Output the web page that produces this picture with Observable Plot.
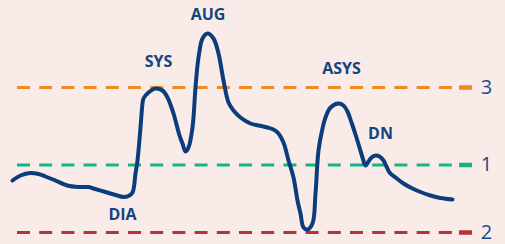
<!DOCTYPE html>
<html>
<head>
<meta charset="utf-8">
<script src="https://cdn.jsdelivr.net/npm/d3@7"></script>
<script src="https://cdn.jsdelivr.net/npm/@observablehq/plot@0.6"></script>
<style>
  html, body { margin: 0; padding: 0; background: #f9ece8; }
  #chart svg { display: block; background: #f9ece8; }
</style>
</head>
<body>
<div id="chart"></div>
<script>
// Waveform trace: time position and amplitude (height above bottom edge)
const waveT = [12,20,30,38,45,55,67,78,88,93,105,115,123,128,132,135,137,140,142,143,148,155,162,167,173,179,182,185,188,192,195,198,202,207,213,218,223,228,233,240,250,258,267,273,278,283,288,293,297,300,303,307,312,315,318,322,325,330,338,343,347,351,355,359,362,365,368,371,375,379,383,386,389,395,403,412,420,430,440,452];
const wavePy = [180,175,172.5,173.5,176,180,185,186.5,186.5,188,191.5,194.5,196.5,195.5,192,173,160,127,103,98,92,88,90,97,113,135,143,151,147,127,87,57,38,33,38,53,80,102,110,117,123,125,127,129,133,142,160,177,200,213,227,229,223,193,150,128,117,107,103,105,111,122,134,147,157,165,161,157,155,156,160,166,172,177,183,188,191.5,195,197.5,199];
const waveY = wavePy.map(p => 244 - p);

// Phase labels
const phaseNames = ["DIA", "SYS", "AUG", "ASYS", "DN"];
const phaseT = [122, 158, 207.5, 341, 380];
const phaseY = [244 - 214, 244 - 61, 244 - 14, 244 - 68.5, 244 - 133.5];

// Reference levels
const refNames = ["3", "1", "2"];
const refY = [244 - 87, 244 - 164.5, 244 - 232];
const refStart = [17, 17, 17];
const refEnd = [459, 459, 459];
const tickEnd = [472, 472, 472];
const refLabelT = [486, 486, 486];

const wave = waveT.map((t, i) => ({t, y: waveY[i]}));
const phases = phaseNames.map((name, i) => ({name, t: phaseT[i], y: phaseY[i]}));
const refs = refNames.map((name, i) => ({name, y: refY[i], x1: refStart[i], x2: refEnd[i], x3: tickEnd[i], lx: refLabelT[i]}));

const chart = Plot.plot({
  width: 505,
  height: 244,
  margin: 0,
  x: {domain: [0, 505], range: [0, 505], axis: null},
  y: {domain: [0, 244], range: [244, 0], axis: null},
  color: {domain: refNames, range: ["#f08a24", "#12b686", "#b8303a"]},
  style: {background: "#f9ece8"},
  marks: [
    Plot.ruleY(refs, {y: "y", x1: "x1", x2: "x2", stroke: "name", strokeWidth: 3, strokeDasharray: "13,9.2"}),
    Plot.ruleY(refs, {y: "y", x1: "x2", x2: "x3", stroke: "name", strokeWidth: 4.5}),
    Plot.text(refs, {x: "lx", y: "y", text: "name", fill: "#1a4a8a", fontSize: 20, fontFamily: "Open Sans", fontWeight: 400, textAnchor: "middle"}),
    Plot.line(wave, {x: "t", y: "y", curve: "catmull-rom", stroke: "#0b3d7d", strokeWidth: 4, strokeLinecap: "round", strokeLinejoin: "round"}),
    Plot.text(phases, {x: "t", y: "y", text: "name", fill: "#12447f", fontSize: 16, fontWeight: 700, fontFamily: "Open Sans", textAnchor: "middle"})
  ]
});
document.getElementById("chart").appendChild(chart);
</script>
</body>
</html>
